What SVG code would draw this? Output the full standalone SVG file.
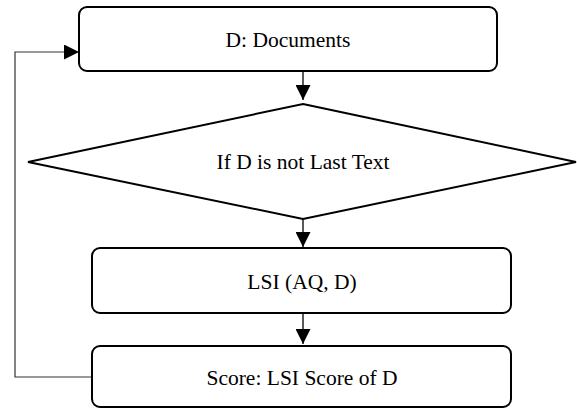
<svg xmlns="http://www.w3.org/2000/svg" width="577" height="409" viewBox="0 0 577 409">
<style>
.box{fill:#fff;stroke:#000;stroke-width:2}
.lbl{font-family:"Liberation Serif","DejaVu Serif",serif;font-size:21.5px;fill:#000;text-anchor:middle}
.conn{fill:none;stroke:#000;stroke-width:1.3}
.back{fill:none;stroke:#333;stroke-width:1.2}
</style>
<defs>
<marker id="ah" markerUnits="userSpaceOnUse" markerWidth="15" markerHeight="15" viewBox="0 0 15 15" refX="15" refY="7.5" orient="auto">
<path d="M0,0 L15,7.5 L0,15 Z" fill="#000"/>
</marker>
</defs>
<rect width="577" height="409" fill="#fff"/>
<g id="connectors">
<line class="conn" x1="303" y1="71" x2="303" y2="100" marker-end="url(#ah)"/>
<line class="conn" x1="303" y1="219" x2="303" y2="247" marker-end="url(#ah)"/>
<line class="conn" x1="303" y1="313" x2="303" y2="344" marker-end="url(#ah)"/>
<polyline class="back" points="92,377 15,377 15,52 79,52" marker-end="url(#ah)"/>
</g>
<g id="documents">
<rect class="box" x="79" y="7" width="418" height="64" rx="8"/>
<text class="lbl" x="288" y="47">D: Documents</text>
</g>
<g id="decision">
<polygon class="box" points="303,104 576,162 303,219 28,162"/>
<text class="lbl" x="303" y="169">If D is not Last Text</text>
</g>
<g id="lsi">
<rect class="box" x="92" y="248" width="419" height="65" rx="8"/>
<text class="lbl" x="302" y="289">LSI (AQ, D)</text>
</g>
<g id="score">
<rect class="box" x="92" y="346" width="419" height="61" rx="8"/>
<text class="lbl" x="302" y="385">Score: LSI Score of D</text>
</g>
</svg>
